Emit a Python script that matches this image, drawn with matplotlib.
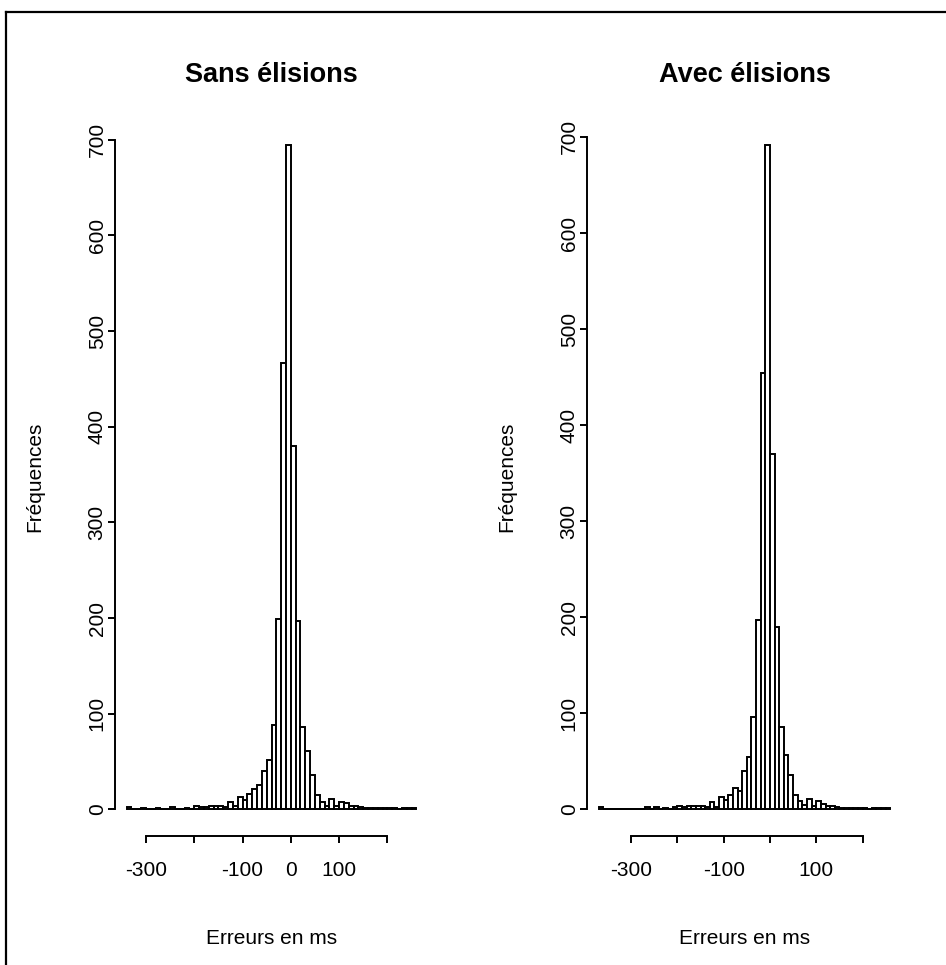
import matplotlib
matplotlib.use("Agg")
import matplotlib.pyplot as plt
from matplotlib.lines import Line2D
import numpy as np

plt.rcParams['font.family'] = ['Liberation Sans', 'DejaVu Sans']

# ---- data (bin width 10 ms) ----
sans_start = -340
sans_counts = [2, 0, 0, 1, 0, 0, 1, 0, 0, 2,      # -340 .. -240
               0, 0, 1, 0, 4, 2, 2, 4, 4, 4,      # -240 .. -140
               3, 8, 4, 13, 10, 16, 21, 25, 40, 52,  # -140 .. -40
               88, 199, 467, 695, 380, 197, 86, 61, 36, 15,  # -40 .. 60
               8, 4, 11, 4, 8, 7, 4, 4, 2, 1,      # 60 .. 160
               1, 1, 1, 1, 1, 1, 0, 1, 1, 1]       # 160 .. 260

avec_start = -370
avec_counts = [2, 0, 0, 0, 0, 0, 0, 0, 0, 0,      # -370 .. -270
               2, 0, 2, 0, 1, 0, 2, 4, 2, 4,      # -270 .. -170
               4, 4, 4, 3, 8, 3, 13, 10, 15, 22,  # -170 .. -70
               19, 40, 55, 96, 197, 454, 692, 370, 190, 86,  # -70 .. 30
               57, 36, 15, 9, 5, 11, 4, 9, 6, 4,  # 30 .. 130
               4, 2, 1, 1, 1, 1, 1, 1, 0, 1,      # 130 .. 230
               1, 1, 1]                           # 230 .. 260

bin_width = 10
titles = ["Sans élisions", "Avec élisions"]
xlabel = "Erreurs en ms"
ylabel = "Fréquences"
xticks = [-300, -200, -100, 0, 100, 200]
xticklabels_sans = ["-300", "", "-100", "0", "100", ""]
xticklabels_avec = ["-300", "", "-100", "", "100", ""]
yticks = [0, 100, 200, 300, 400, 500, 600, 700]

W, H = 946, 965
fig = plt.figure(figsize=(W / 100, H / 100), dpi=100)


def rect(l, r, t, b):
    return [l / W, 1 - b / H, (r - l) / W, (b - t) / H]


panels = [
    (rect(115, 428, 118, 836), sans_start, sans_counts, titles[0], xticklabels_sans),
    (rect(587, 902, 118, 836), avec_start, avec_counts, titles[1], xticklabels_avec),
]

LW = 1.4
for pos, start, counts, title, xtl in panels:
    ax = fig.add_axes(pos)
    counts = np.array(counts)
    edges = start + bin_width * np.arange(len(counts) + 1)
    ax.bar(edges[:-1], counts, width=bin_width, align='edge',
           facecolor='white', edgecolor='black', linewidth=LW)
    zero = counts == 0
    ax.hlines(np.zeros(zero.sum()), edges[:-1][zero], edges[1:][zero],
              color='black', linewidth=LW)
    lo, hi = edges[0], edges[-1]
    ext = 0.04 * (hi - lo)
    ax.set_xlim(lo - ext, hi + ext)
    ymax = counts.max()
    ax.set_ylim(-0.04 * ymax, ymax * 1.04)
    for s in ['top', 'right']:
        ax.spines[s].set_visible(False)
    ax.spines['left'].set_bounds(yticks[0], yticks[-1])
    ax.spines['bottom'].set_bounds(xticks[0], xticks[-1])
    for s in ['left', 'bottom']:
        ax.spines[s].set_linewidth(LW)
    ax.set_xticks(xticks)
    ax.set_xticklabels(xtl)
    ax.set_yticks(yticks)
    ax.set_yticklabels([str(v) for v in yticks], rotation=90, va='center')
    ax.tick_params(direction='out', length=5, width=LW, labelsize=15)
    ax.tick_params(axis='x', pad=13)
    ax.tick_params(axis='y', pad=1)
    ax.set_title(title, fontsize=19.5, fontweight='bold', pad=26)
    ax.set_xlabel(xlabel, fontsize=15, labelpad=35)
    ax.set_ylabel(ylabel, fontsize=15, labelpad=31)

# outer frame (partially visible)
fig.add_artist(Line2D([6 / W, 6 / W], [0, 1 - 12 / H], transform=fig.transFigure,
                      color='black', linewidth=1.6))
fig.add_artist(Line2D([6 / W, 1], [1 - 12 / H, 1 - 12 / H], transform=fig.transFigure,
                      color='black', linewidth=1.6))

fig.savefig("out.png", dpi=100, facecolor='white')
